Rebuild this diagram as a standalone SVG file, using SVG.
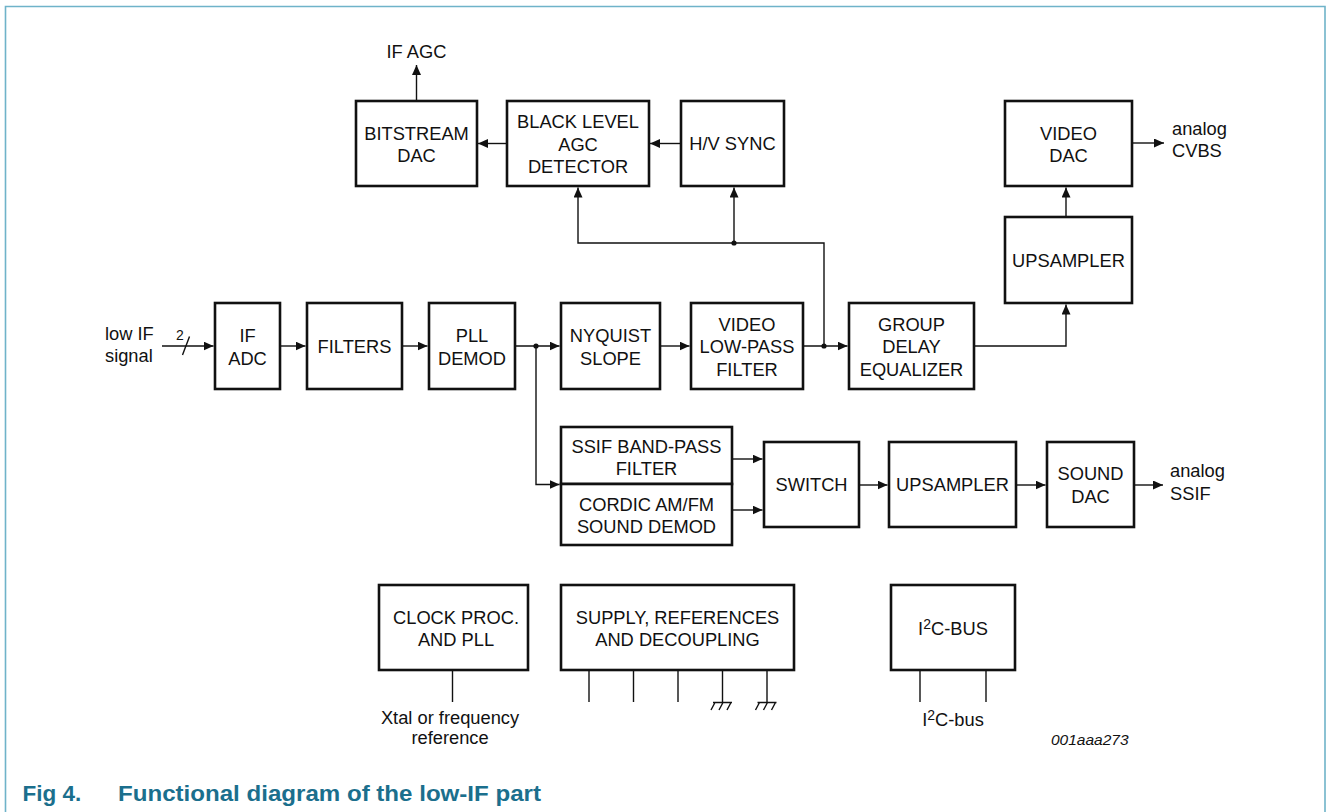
<svg xmlns="http://www.w3.org/2000/svg" width="1327" height="812" viewBox="0 0 1327 812">
<style>
.box{fill:#fff;stroke:#111;stroke-width:2.6}
.t{font-family:"Liberation Sans",Arial,sans-serif;font-size:18.3px;fill:#111;text-anchor:middle}
.l{font-family:"Liberation Sans",Arial,sans-serif;font-size:18.3px;fill:#111}
.w{fill:none;stroke:#111;stroke-width:1.4}
.frame{fill:none;stroke:#6fb3c9;stroke-width:1.6}
.cap{font-family:"Liberation Sans",Arial,sans-serif;font-weight:bold;font-size:22.5px;fill:#1b6f8d}
.sup{font-size:14px}
</style>
<defs>
<marker id="ah" markerWidth="11" markerHeight="9" refX="10" refY="4.5" orient="auto" markerUnits="userSpaceOnUse">
<path d="M0,0 L10,4.5 L0,9 Z" fill="#111"/>
</marker>
</defs>
<rect width="1327" height="812" fill="#fff"/>
<path class="frame" d="M5.5,812 V6.5 H1325 V812"/>

<g id="connectors">
<line class="w" x1="416.5" y1="101" x2="416.5" y2="65" marker-end="url(#ah)"/>
<line class="w" x1="507" y1="143.5" x2="478" y2="143.5" marker-end="url(#ah)"/>
<line class="w" x1="681" y1="143.5" x2="650" y2="143.5" marker-end="url(#ah)"/>
<polyline class="w" points="824,346 824,243 578,243 578,187.5" marker-end="url(#ah)"/>
<line class="w" x1="734" y1="243" x2="734" y2="187.5" marker-end="url(#ah)"/>
<circle cx="734" cy="243" r="2.6" fill="#111"/>
<circle cx="824" cy="346" r="2.6" fill="#111"/>
<polyline class="w" points="974,346 1066,346 1066,304.5" marker-end="url(#ah)"/>
<line class="w" x1="1066" y1="217" x2="1066" y2="187.5" marker-end="url(#ah)"/>
<line class="w" x1="1132" y1="143" x2="1164" y2="143" marker-end="url(#ah)"/>
<line class="w" x1="162" y1="346" x2="213.5" y2="346" marker-end="url(#ah)"/>
<line class="w" x1="182.5" y1="355" x2="189.5" y2="336.5"/>
<line class="w" x1="280" y1="346" x2="305.5" y2="346" marker-end="url(#ah)"/>
<line class="w" x1="402" y1="346" x2="427.5" y2="346" marker-end="url(#ah)"/>
<line class="w" x1="515" y1="346" x2="559.5" y2="346" marker-end="url(#ah)"/>
<circle cx="536" cy="346" r="2.6" fill="#111"/>
<line class="w" x1="660" y1="346" x2="689.5" y2="346" marker-end="url(#ah)"/>
<line class="w" x1="803" y1="346" x2="847.5" y2="346" marker-end="url(#ah)"/>
<polyline class="w" points="536,346 536,484.5 559.5,484.5" marker-end="url(#ah)"/>
<line class="w" x1="732" y1="459" x2="762.5" y2="459" marker-end="url(#ah)"/>
<line class="w" x1="732" y1="510" x2="762.5" y2="510" marker-end="url(#ah)"/>
<line class="w" x1="859" y1="485" x2="887.5" y2="485" marker-end="url(#ah)"/>
<line class="w" x1="1016" y1="485" x2="1045.5" y2="485" marker-end="url(#ah)"/>
<line class="w" x1="1134" y1="485" x2="1163" y2="485" marker-end="url(#ah)"/>
<line class="w" x1="452.5" y1="670" x2="452.5" y2="702"/>
<line class="w" x1="589" y1="670" x2="589" y2="702"/>
<line class="w" x1="633.5" y1="670" x2="633.5" y2="702"/>
<line class="w" x1="678" y1="670" x2="678" y2="702"/>
<line class="w" x1="722.5" y1="670" x2="722.5" y2="702.5"/>
<line class="w" x1="767" y1="670" x2="767" y2="702.5"/>
<path class="w" d="M713,702.5 H732 M715,702.5 L711,710 M723,702.5 L719,710 M731,702.5 L727,710"/>
<path class="w" d="M757.5,702.5 H776.5 M759.5,702.5 L755.5,710 M767.5,702.5 L763.5,710 M775.5,702.5 L771.5,710"/>
<line class="w" x1="920" y1="670" x2="920" y2="702"/>
<line class="w" x1="986" y1="670" x2="986" y2="702"/>
</g>

<g id="labels">
<text class="t" x="416.5" y="58">IF AGC</text>
<text class="l" x="1172" y="135">analog</text>
<text class="l" x="1172" y="157">CVBS</text>
<text class="l" x="105" y="340">low IF</text>
<text class="l" x="105" y="361.5">signal</text>
<text class="l" x="176" y="339.5" style="font-size:14px">2</text>
<text class="l" x="1170" y="477">analog</text>
<text class="l" x="1170" y="499.5">SSIF</text>
<text class="t" x="450" y="723.5">Xtal or frequency</text>
<text class="t" x="450" y="744">reference</text>
<text class="t" x="953" y="726">I<tspan class="sup" dy="-6">2</tspan><tspan dy="6">C-bus</tspan></text>
<text class="l" x="1051" y="745" style="font-size:15.5px;font-style:italic">001aaa273</text>
</g>

<g id="n-bitstream"><rect class="box" x="356" y="101" width="121" height="85"/><text class="t" x="416.5" y="139.5">BITSTREAM</text><text class="t" x="416.5" y="162">DAC</text></g>
<g id="n-blacklevel"><rect class="box" x="507" y="101" width="142" height="85"/><text class="t" x="578" y="128">BLACK LEVEL</text><text class="t" x="578" y="150.7">AGC</text><text class="t" x="578" y="173.4">DETECTOR</text></g>
<g id="n-hvsync"><rect class="box" x="681" y="101" width="103" height="85"/><text class="t" x="732.5" y="150">H/V SYNC</text></g>
<g id="n-videodac"><rect class="box" x="1005" y="101" width="127" height="85"/><text class="t" x="1068.5" y="139.5">VIDEO</text><text class="t" x="1068.5" y="162">DAC</text></g>
<g id="n-upsampler-v"><rect class="box" x="1005" y="217" width="127" height="86"/><text class="t" x="1068.5" y="267">UPSAMPLER</text></g>
<g id="n-ifadc"><rect class="box" x="215" y="303" width="65" height="86"/><text class="t" x="247.5" y="342">IF</text><text class="t" x="247.5" y="364.5">ADC</text></g>
<g id="n-filters"><rect class="box" x="307" y="303" width="95" height="86"/><text class="t" x="354.5" y="352.5">FILTERS</text></g>
<g id="n-plldemod"><rect class="box" x="429" y="303" width="86" height="86"/><text class="t" x="472" y="342">PLL</text><text class="t" x="472" y="364.5">DEMOD</text></g>
<g id="n-nyquist"><rect class="box" x="561" y="303" width="99" height="86"/><text class="t" x="610.5" y="342">NYQUIST</text><text class="t" x="610.5" y="364.5">SLOPE</text></g>
<g id="n-videolpf"><rect class="box" x="691" y="303" width="112" height="86"/><text class="t" x="747" y="330.5">VIDEO</text><text class="t" x="747" y="353">LOW-PASS</text><text class="t" x="747" y="375.5">FILTER</text></g>
<g id="n-gde"><rect class="box" x="849" y="303" width="125" height="86"/><text class="t" x="911.5" y="330.5">GROUP</text><text class="t" x="911.5" y="353">DELAY</text><text class="t" x="911.5" y="375.5">EQUALIZER</text></g>
<g id="n-ssif"><rect class="box" x="561" y="427" width="171" height="57"/><text class="t" x="646.5" y="453">SSIF BAND-PASS</text><text class="t" x="646.5" y="475.3">FILTER</text></g>
<g id="n-cordic"><rect class="box" x="561" y="484" width="171" height="61"/><text class="t" x="646.5" y="510.5">CORDIC AM/FM</text><text class="t" x="646.5" y="532.8">SOUND DEMOD</text></g>
<g id="n-switch"><rect class="box" x="764" y="442" width="95" height="85"/><text class="t" x="811.5" y="491">SWITCH</text></g>
<g id="n-upsampler-s"><rect class="box" x="889" y="442" width="127" height="85"/><text class="t" x="952.5" y="491">UPSAMPLER</text></g>
<g id="n-sounddac"><rect class="box" x="1047" y="442" width="87" height="85"/><text class="t" x="1090.5" y="480">SOUND</text><text class="t" x="1090.5" y="502.5">DAC</text></g>
<g id="n-clock"><rect class="box" x="379" y="585" width="149" height="85"/><text class="t" x="456" y="623.5">CLOCK PROC.</text><text class="t" x="456" y="646">AND PLL</text></g>
<g id="n-supply"><rect class="box" x="561" y="585" width="233" height="85"/><text class="t" x="677.5" y="623.5">SUPPLY, REFERENCES</text><text class="t" x="677.5" y="646">AND DECOUPLING</text></g>
<g id="n-i2c"><rect class="box" x="891" y="585" width="124" height="85"/><text class="t" x="953" y="635">I<tspan class="sup" dy="-6">2</tspan><tspan dy="6">C-BUS</tspan></text></g>

<g id="caption">
<text class="cap" x="22.5" y="801">Fig 4.</text>
<text class="cap" x="118" y="801" textLength="423" lengthAdjust="spacingAndGlyphs">Functional diagram of the low-IF part</text>
</g>
</svg>
